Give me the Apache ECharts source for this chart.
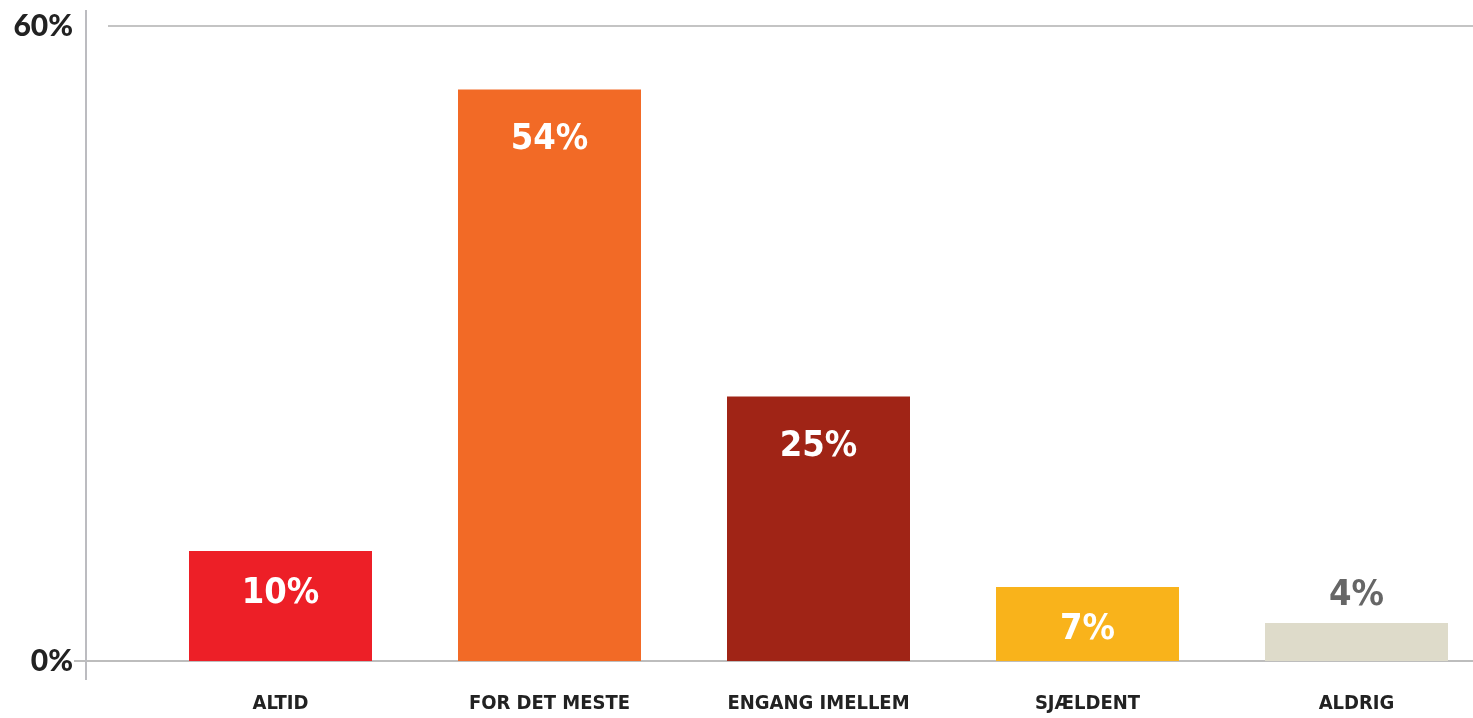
<!DOCTYPE html>
<html>
<head>
<meta charset="utf-8">
<script src="https://cdn.jsdelivr.net/npm/echarts@6/dist/echarts.min.js"></script>
<style>
html,body{margin:0;padding:0;background:#fff;}
#chart{width:1473px;height:718px;}
</style>
</head>
<body>
<div id="chart"></div>
<script>
const categories = ['ALTID', 'FOR DET MESTE', 'ENGANG IMELLEM', 'SJÆLDENT', 'ALDRIG'];
const values = [10.4, 54, 25, 7, 3.6];
const colors = ['#ED1F27', '#F26A26', '#A02416', '#F9B31B', '#DEDBCA'];
const yTicks = [0, 60];

const condensed = '"Liberation Sans Narrow", "DejaVu Sans Condensed", "Roboto Condensed", sans-serif';
const chart = echarts.init(document.getElementById('chart'));

const option = {
  animation: false,
  grid: { left: 146, width: 1345, top: 26, bottom: 57, containLabel: false, outerBoundsMode: 'none' },
  xAxis: {
    type: 'category',
    data: categories,
    axisLine: { show: false },
    axisTick: { show: false },
    axisLabel: { interval: 0, margin: 33, color: '#222', fontFamily: condensed, fontWeight: 'bold', fontSize: 20 }
  },
  yAxis: {
    type: 'value',
    min: yTicks[0],
    max: yTicks[1],
    interval: 60,
    splitLine: { show: false },
    axisLine: { show: false },
    axisTick: { show: false },
    axisLabel: {
      margin: 73,
      color: '#222',
      fontFamily: 'Lato, sans-serif',
      fontWeight: 900,
      fontSize: 30,
      formatter: v => v + '%'
    }
  },
  series: [{
    type: 'bar',
    barWidth: 183,
    data: values.map((v, i) => ({
      value: v,
      itemStyle: { color: colors[i] },
      label: v < 5
        ? { position: 'top', distance: 9, color: '#666' }
        : (v < 15 ? { distance: 25 } : {})
    })),
    label: {
      show: true,
      position: 'insideTop',
      distance: 32,
      color: '#fff',
      fontFamily: condensed,
      fontWeight: 'bold',
      fontSize: 36,
      formatter: p => Math.round(p.value) + '%'
    },
    z: 3
  }]
};
chart.setOption(option);

const y0 = chart.convertToPixel({ yAxisIndex: 0 }, yTicks[0]);
const y60 = chart.convertToPixel({ yAxisIndex: 0 }, yTicks[1]);
chart.setOption({
  graphic: [
    { type: 'line', shape: { x1: 74, y1: y0, x2: 1473, y2: y0 }, style: { stroke: '#bdbdbd', lineWidth: 2 }, z: 1 },
    { type: 'line', shape: { x1: 108, y1: y60, x2: 1473, y2: y60 }, style: { stroke: '#c4c4c4', lineWidth: 2 }, z: 1 },
    { type: 'line', shape: { x1: 86, y1: 10, x2: 86, y2: 680 }, style: { stroke: '#bcbcc0', lineWidth: 2 }, z: 1 }
  ]
});
</script>
</body>
</html>
